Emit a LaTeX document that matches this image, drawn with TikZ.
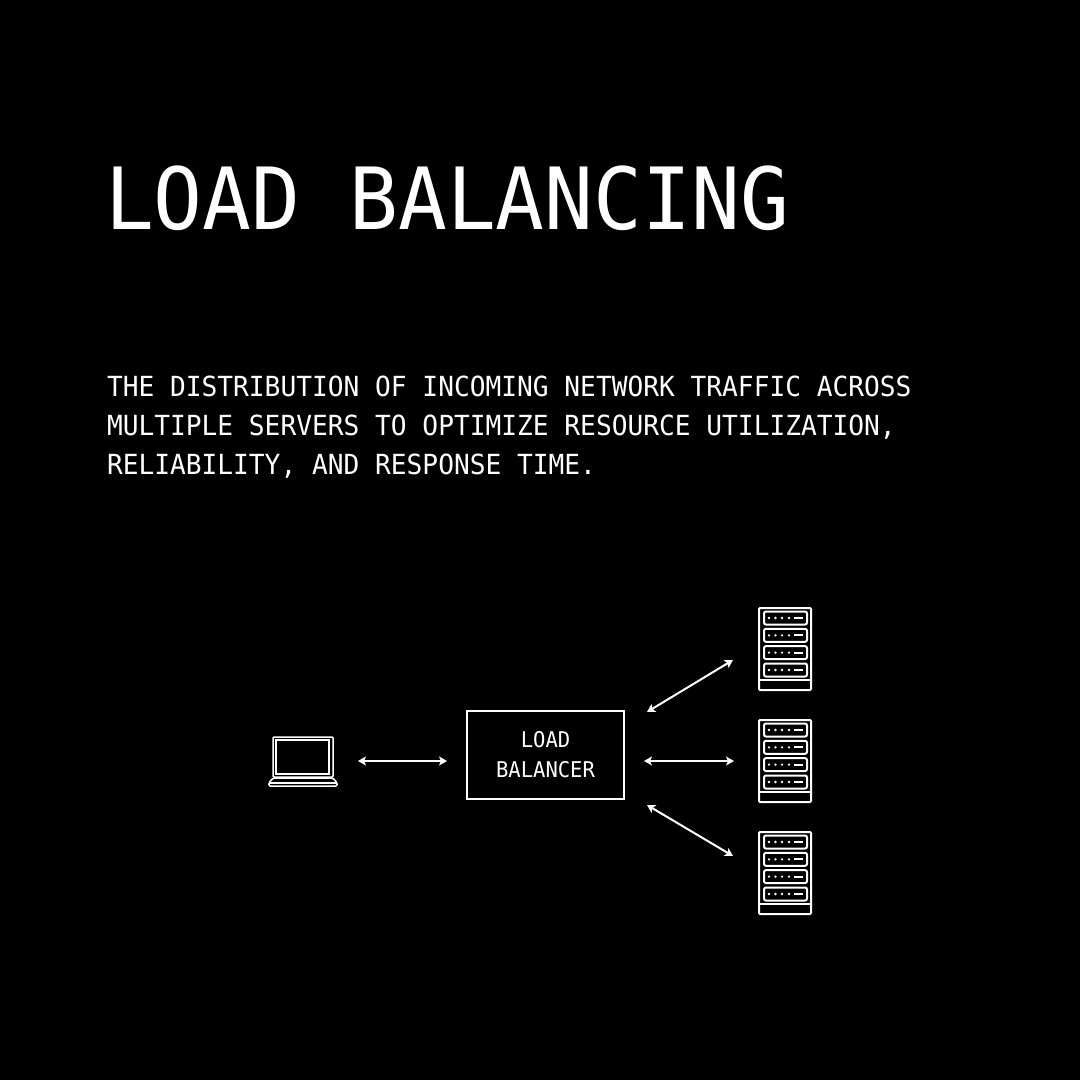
\documentclass[tikz,border=0pt]{standalone}
\usepackage{fontspec}
\usepackage{xcolor}
\usepackage{tikz}
\usetikzlibrary{arrows.meta,positioning}
\newfontfamily\monofont[FakeStretch=0.946]{DejaVu Sans Mono}

\begin{document}
\begin{tikzpicture}[
  x=1pt,y=-1pt,
  >={Stealth[length=8pt,width=9pt,inset=2pt]},
  every node/.style={text=white,outer sep=0pt},
  titletext/.style={anchor=base west,inner sep=0pt,font=\monofont\fontsize{85.8}{95}\selectfont},
  bodytext/.style={anchor=north west,inner sep=0pt,align=left,font=\monofont\fontsize{27.7}{39}\selectfont},
  lbbox/.style={draw=white,line width=1.2pt,minimum width=157pt,minimum height=88pt,inner sep=0pt,
    align=center,font=\monofont\fontsize{21.7}{30}\selectfont},
  rack/.style={draw=white,line width=2pt,rounded corners=1pt,minimum width=52pt,minimum height=82pt,inner sep=0pt},
  laptop/.style={minimum width=70pt,minimum height=50pt,inner sep=0pt},
  icon/.style={draw=white,line width=1.5pt,rounded corners=1pt},
  flow/.style={<->,white,line width=2pt}
]
\fill[black] (0,0) rectangle (1080,1080);
\useasboundingbox (0,0) rectangle (1080,1080);

\node[titletext] (title) at (105,229) {LOAD BALANCING};
\node[bodytext] (intro) at (107,376) {THE DISTRIBUTION OF INCOMING NETWORK TRAFFIC ACROSS\\
MULTIPLE SERVERS TO OPTIMIZE RESOURCE UTILIZATION,\\
RELIABILITY, AND RESPONSE TIME.};

\node[lbbox] (balancer) at (545.5,755) {LOAD\\BALANCER};
\node[laptop,left=129pt of balancer,yshift=-7pt] (client) {};
\node[rack,right=135pt of balancer,yshift=-6pt] (srvmid) {};
\node[rack,above=30pt of srvmid] (srvtop) {};
\node[rack,below=30pt of srvmid] (srvbot) {};

% laptop
\begin{scope}[shift={(client.north west)}]
  \draw[icon] (5,0) rectangle (65,40);
  \draw[icon,rounded corners=0pt] (8,3) rectangle (61,37);
  \draw[icon,rounded corners=1.5pt] (5,41) -- (0.8,46) -- (0.8,49.2) -- (69.2,49.2) -- (69.2,46) -- (65,41) -- cycle;
  \draw[white,line width=1.5pt] (1.5,46) -- (68.5,46);
\end{scope}

% servers
\foreach \srv in {srvtop,srvmid,srvbot}{
  \begin{scope}[shift={(\srv.north west)}]
    \draw[white,line width=2pt] (0,72) -- (52,72);
    \foreach \row in {10,27.3,44.6,62}{
      \draw[icon,line width=2pt,rounded corners=2pt] (5,\row-6.5) rectangle (48,\row+6.5);
      \foreach \col in {10,16.5,23,30}
        \fill[white] (\col,\row) circle (1.3);
      \draw[white,line width=2pt] (35,\row) -- (44,\row);
    }
  \end{scope}
}

\draw[flow] ([xshift=20pt,yshift=-6pt]balancer.west -| client.east) -- ([xshift=-20pt,yshift=-6pt]balancer.west);
\draw[flow] ([xshift=23pt,yshift=-1pt]balancer.north east) -- ([xshift=-26pt,yshift=-11pt]srvtop.west);
\draw[flow] ([xshift=20pt,yshift=-6pt]balancer.east) -- ([xshift=-25pt]srvmid.west);
\draw[flow] ([xshift=23pt,yshift=-6pt]balancer.south east) -- ([xshift=-26pt,yshift=17pt]srvbot.west);
\end{tikzpicture}
\end{document}
